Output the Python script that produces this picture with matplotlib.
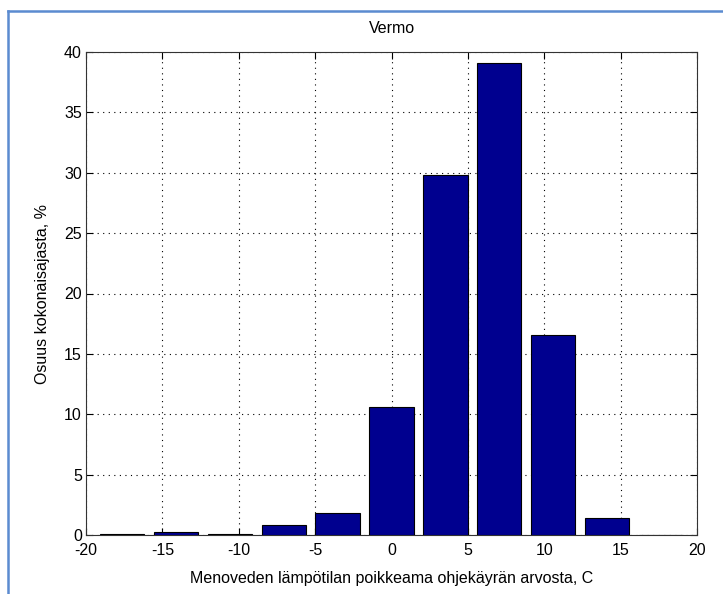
import numpy as np
import matplotlib.pyplot as plt
from matplotlib.lines import Line2D

plt.rcParams['font.family'] = ['Liberation Sans', 'DejaVu Sans']
plt.rcParams['axes.unicode_minus'] = False

# luokkien keskikohdat ja osuudet
centers = np.arange(-5, 6) * 3.53
values = [0.08, 0.22, 0.08, 0.80, 1.85, 10.58, 29.8, 39.05, 16.6, 1.38, 0.0]
xticks = [-20, -15, -10, -5, 0, 5, 10, 15, 20]
yticks = [0, 5, 10, 15, 20, 25, 30, 35, 40]

fig = plt.figure(figsize=(7.23, 5.94), dpi=100)
ax = fig.add_axes([86/723, 1-535/594, (697-86)/723, (535-52)/594])

ax.bar(centers, values, width=2.9, color='#00008F', edgecolor='black', linewidth=0.8, zorder=3)

ax.set_xlim(-20, 20)
ax.set_ylim(0, 40)
ax.set_xticks(xticks)
ax.set_yticks(yticks)
ax.grid(True, linestyle=(0, (1, 4)), color='black', linewidth=0.8, zorder=0)
ax.set_axisbelow(True)
ax.tick_params(direction='in', top=True, right=True, labelsize=11.5, length=5)
ax.tick_params(axis='x', pad=6)
ax.tick_params(axis='y', pad=3)
for s in ax.spines.values():
    s.set_linewidth(0.8)
    s.set_color('#333333')

ax.set_title('Vermo', fontsize=11.5, pad=14)
ax.set_xlabel('Menoveden lämpötilan poikkeama ohjekäyrän arvosta, C', fontsize=11.5, labelpad=9)
ax.set_ylabel('Osuus kokonaisajasta, %', fontsize=11.5, labelpad=10)

#kehys
fig.add_artist(Line2D([8/723, 8/723], [0, 1-11/594], color='#5B8BD0', linewidth=1.8))
fig.add_artist(Line2D([8/723, 1], [1-11/594, 1-11/594], color='#5B8BD0', linewidth=1.8))

fig.savefig('out.png', dpi=100)
